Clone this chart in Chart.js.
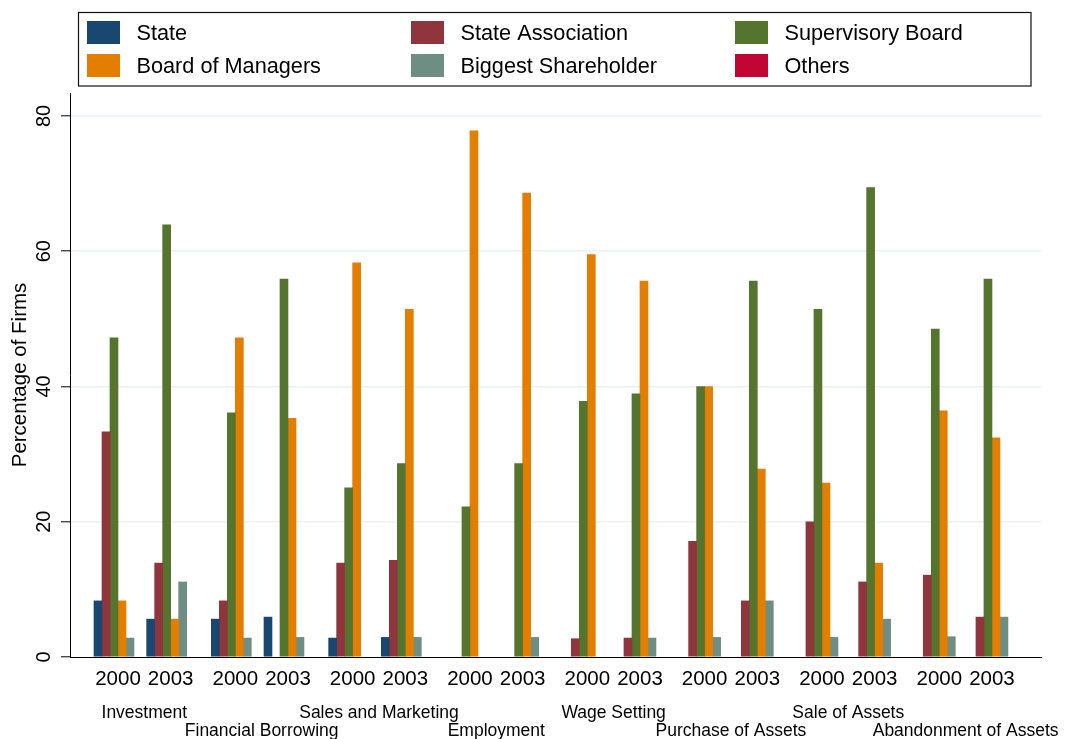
<!DOCTYPE html>
<html><head><meta charset="utf-8">
<script src="https://cdn.jsdelivr.net/npm/chart.js@4/dist/chart.umd.min.js"></script>
<style>html,body{margin:0;padding:0;background:#fff}#wrap{width:1068px;height:739px}</style>
</head><body><div id="wrap"><canvas id="c" width="1068" height="739"></canvas></div>
<script>
// ---- data (percent of firms) ----
const categories = ['Investment','Financial Borrowing','Sales and Marketing','Employment','Wage Setting','Purchase of Assets','Sale of Assets','Abandonment of Assets'];
const years = ['2000','2003'];
const seriesNames = ['State','State Association','Supervisory Board','Board of Managers','Biggest Shareholder','Others'];
// order: category 1 (2000, 2003), category 2 (2000, 2003), ...
const state              = [8.3,5.6, 5.6,5.9, 2.8,2.9, 0,0, 0,0, 0,0, 0,0, 0,0];
const stateAssociation   = [33.3,13.9, 8.3,0, 13.9,14.3, 0,0, 2.7,2.8, 17.1,8.3, 20.0,11.1, 12.1,5.9];
const supervisoryBoard   = [47.2,63.9, 36.1,55.9, 25.0,28.6, 22.2,28.6, 37.8,38.9, 40.0,55.6, 51.4,69.4, 48.5,55.9];
const boardOfManagers    = [8.3,5.6, 47.2,35.3, 58.3,51.4, 77.8,68.6, 59.5,55.6, 40.0,27.8, 25.7,13.9, 36.4,32.4];
const biggestShareholder = [2.8,11.1, 2.8,2.9, 0,2.9, 0,2.9, 0,2.8, 2.9,8.3, 2.9,5.6, 3.0,5.9];
const others             = [0,0, 0,0, 0,0, 0,0, 0,0, 0,0, 0,0, 0,0];
const yTicks = [0,20,40,60,80];

// ---- styling / layout ----
const colors = ['#1a476f','#90353b','#55752f','#e37e00','#6e8e84','#c10534'];
const FONT = '"Liberation Sans", Arial, Helvetica, sans-serif';
const yearOffset = 0.449;   // gap between 2000 and 2003 groups, in category units
const groupPos = (i) => Math.floor(i / 2) + (i % 2) * yearOffset;
const seriesValues = [state, stateAssociation, supervisoryBoard, boardOfManagers, biggestShareholder, others];

const datasets = seriesNames.map((name, s) => ({
  label: name,
  data: seriesValues[s].map((v, i) => ({ x: groupPos(i), y: v === 0 ? null : v })),
  backgroundColor: colors[s],
  borderWidth: 0,
  barThickness: 8
}));

const overlay = {
  id: 'overlay',
  afterDraw(chart) {
    const ctx = chart.ctx;
    const xs = chart.scales.x;
    ctx.save();
    // category labels, staggered on two rows
    ctx.fillStyle = '#000';
    ctx.textAlign = 'center';
    ctx.textBaseline = 'alphabetic';
    ctx.font = '17.5px ' + FONT;
    categories.forEach((c, i) => {
      const x = xs.getPixelForValue(i + yearOffset / 2);
      const y = (i % 2 === 0) ? 718.3 : 736.3;
      ctx.fillText(c, x, y);
    });
    // legend
    ctx.strokeStyle = '#111';
    ctx.lineWidth = 1.2;
    ctx.strokeRect(78.5, 12.5, 952.5, 73.5);
    ctx.textAlign = 'left';
    ctx.font = '21.7px ' + FONT;
    chart.data.datasets.forEach((ds, k) => {
      const col = k % 3, row = Math.floor(k / 3);
      const sx = 87 + col * 324, sy = 21 + row * 33;
      ctx.fillStyle = ds.backgroundColor;
      ctx.fillRect(sx, sy, 33, 23);
      ctx.fillStyle = '#000';
      ctx.fillText(ds.label, 136.5 + col * 324, 40 + row * 33);
    });
    ctx.restore();
  }
};

new Chart(document.getElementById('c'), {
  type: 'bar',
  data: { datasets },
  plugins: [overlay],
  options: {
    responsive: false,
    animation: false,
    devicePixelRatio: 1,
    layout: { padding: { top: 93, right: 27, left: 0, bottom: 0 } },
    plugins: { legend: { display: false }, tooltip: { enabled: false } },
    scales: {
      x: {
        type: 'linear',
        min: -0.409,
        max: 7.867,
        offset: false,
        grid: { display: false, drawTicks: false, offset: false },
        border: { display: true, color: '#000', width: 1 },
        afterBuildTicks: (axis) => { axis.ticks = state.map((_, i) => ({ value: groupPos(i) })); },
        afterFit: (scale) => { scale.height = 82; },
        ticks: {
          autoSkip: false, maxRotation: 0, minRotation: 0, padding: 10,
          color: '#000', font: { family: FONT, size: 20.5 },
          callback: (v, i) => years[i % 2]
        }
      },
      y: {
        min: 0,
        max: 83.4,
        afterBuildTicks: (axis) => { axis.ticks = yTicks.map(v => ({ value: v })); },
        afterFit: (scale) => { scale.width = 70; },
        grid: {
          color: (c) => (c.tick && c.tick.value === 0) ? 'rgba(0,0,0,0)' : '#eaf2f3',
          lineWidth: 1.6,
          tickColor: '#000',
          tickLength: 9,
          tickWidth: 1
        },
        border: { display: true, color: '#000', width: 1 },
        ticks: {
          minRotation: 90, maxRotation: 90, crossAlign: 'center', padding: 5,
          color: '#000', font: { family: FONT, size: 20 }
        },
        title: {
          display: true, text: 'Percentage of Firms', color: '#000',
          font: { family: FONT, size: 20.5 }, padding: { top: 8, bottom: 0 }
        }
      }
    }
  }
});
</script>
</body></html>
